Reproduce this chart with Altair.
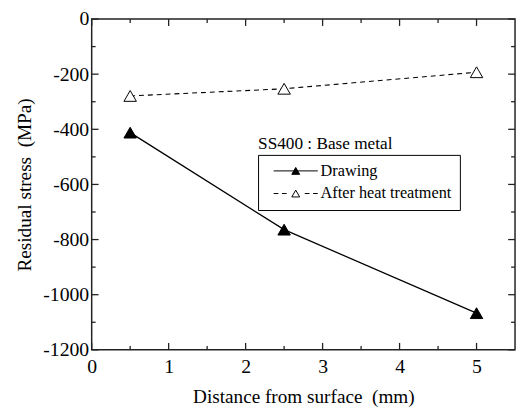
import altair as alt
import pandas as pd

# ---- data ----
x_mm = [0.5, 2.5, 5.0]
drawing = [-412, -764, -1067]
heat = [-279, -253, -193]
series = ["Drawing", "After heat treatment"]
legend_title = "SS400 : Base metal"

x_major = [0, 1, 2, 3, 4, 5]
x_minor = [0.5, 1.5, 2.5, 3.5, 4.5]
y_major = [-1200, -1000, -800, -600, -400, -200, 0]
y_minor = [-1100, -900, -700, -500, -300, -100]

W, H = 430, 336
FONT = "Liberation Serif"

df_draw = pd.DataFrame({"x": x_mm, "y": drawing, "s": series[0]})
df_heat = pd.DataFrame({"x": x_mm, "y": heat, "s": series[1]})
df_all = pd.concat([df_draw, df_heat])

xs = alt.Scale(domain=[0, 5.5], nice=False, zero=False)
ys = alt.Scale(domain=[-1200, 0], nice=False, zero=False)

xaxis = alt.Axis(values=x_major, title="Distance from surface\u00a0 (mm)", grid=False,
                 ticks=False, domain=False, labelPadding=7, labelFlush=False,
                 titlePadding=12, labelExpr="'' + datum.value")
yaxis = alt.Axis(values=y_major, title="Residual stress\u00a0 (MPa)", grid=False,
                 ticks=False, domain=False, labelPadding=3, labelFlush=False,
                 titlePadding=8, labelExpr="'' + datum.value")

X = lambda f: alt.X(f, type="quantitative", scale=xs, axis=xaxis)
Y = lambda f: alt.Y(f, type="quantitative", scale=ys, axis=yaxis)

# ---- inward ticks on all four sides ----
dxM = pd.DataFrame({"v": x_major})
dxm = pd.DataFrame({"v": x_minor})
dyM = pd.DataFrame({"v": y_major})
dym = pd.DataFrame({"v": y_minor})
tick_style = dict(color="#222", strokeWidth=1.3)
ticks = []
for d, L in ((dxM, 7), (dxm, 4)):
    ticks.append(alt.Chart(d).mark_rule(**tick_style).encode(x=X("v"), y=alt.value(H), y2=alt.value(H - L)))
    ticks.append(alt.Chart(d).mark_rule(**tick_style).encode(x=X("v"), y=alt.value(0), y2=alt.value(L)))
for d, L in ((dyM, 7), (dym, 4)):
    ticks.append(alt.Chart(d).mark_rule(**tick_style).encode(y=Y("v"), x=alt.value(0), x2=alt.value(L)))
    ticks.append(alt.Chart(d).mark_rule(**tick_style).encode(y=Y("v"), x=alt.value(W), x2=alt.value(W - L)))

# ---- series ----
line_draw = alt.Chart(df_draw).mark_line(color="black", strokeWidth=1.3).encode(x=X("x"), y=Y("y"))
line_heat = alt.Chart(df_heat).mark_line(color="black", strokeWidth=1.1, strokeDash=[5, 4]).encode(x=X("x"), y=Y("y"))
pt_draw = alt.Chart(df_draw).mark_point(shape="triangle-up", size=160, filled=True, fill="black",
                                        stroke="black", strokeWidth=1, opacity=1).encode(x=X("x"), y=Y("y"))
pt_heat = alt.Chart(df_heat).mark_point(shape="triangle-up", size=160, filled=True, fill="white",
                                        stroke="black", strokeWidth=1, opacity=1).encode(x=X("x"), y=Y("y"))

# ---- legend (native legend, custom line+triangle symbols) ----
path_draw = "M-5.6,0L5.6,0M0,-0.87L1,0.87L-1,0.87Z"
path_heat = ("M-5.6,0L-4.4,0M-3.5,0L-2.3,0M2.3,0L3.5,0M4.4,0L5.6,0"
             "M0,-0.87L1,0.87L-1,0.87Z")
leg = alt.Legend(orient="none", legendX=169, legendY=138, title=None,
                 strokeColor="black", padding=8, labelFont=FONT, labelFontSize=16.5,
                 labelColor="black", symbolSize=64, symbolStrokeWidth=1,
                 symbolOffset=22, labelOffset=17, rowPadding=6)
legend_layer = alt.Chart(df_all).transform_filter("false").mark_point(
    filled=True, stroke="black", strokeWidth=1, opacity=1, size=64
).encode(
    x=X("x"), y=Y("y"),
    shape=alt.Shape("s:N", scale=alt.Scale(domain=series, range=[path_draw, path_heat]), legend=leg),
    fill=alt.Fill("s:N", scale=alt.Scale(domain=series, range=["black", "white"]), legend=leg),
)

title_text = alt.Chart(pd.DataFrame({"t": [legend_title]})).mark_text(
    align="left", baseline="alphabetic", font=FONT, fontSize=17.5, color="black"
).encode(text="t:N", x=alt.value(169), y=alt.value(132))

chart = alt.layer(*ticks, line_draw, line_heat, pt_draw, pt_heat, legend_layer, title_text).properties(
    width=W, height=H,
    padding={"left": 85, "top": 8, "right": 2, "bottom": 64},
    autosize=alt.AutoSizeParams(type="none"),
).configure_view(
    stroke="#222", strokeWidth=1.5
).configure_axis(
    labelFont=FONT, labelFontSize=20, labelColor="black",
    titleFont=FONT, titleFontSize=19.5, titleFontWeight="normal", titleColor="black",
).configure_legend(
    labelFont=FONT, labelFontSize=16.5, labelColor="black"
).configure_text(font=FONT)

chart.save("out.html", embed_options={"renderer": "svg", "actions": False})
